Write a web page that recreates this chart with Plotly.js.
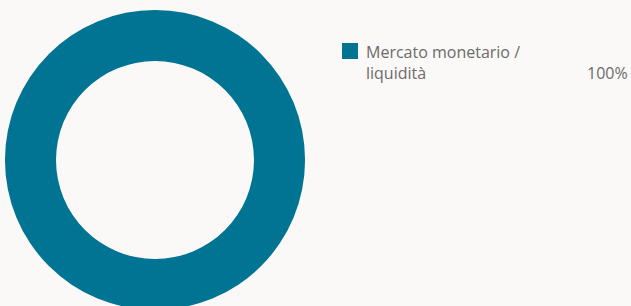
<!DOCTYPE html>
<html><head><meta charset="utf-8">
<script src="https://cdn.plot.ly/plotly-3.0.1.min.js"></script>
<style>html,body{margin:0;padding:0;overflow:hidden;background:#faf9f7;}</style>
</head><body><div id="chart"></div>
<script>
const categories = ["Mercato monetario /<br>liquidità"];
const values = [100];
const valueLabels = ["100%"];
const colors = ["#017393"];

const W = 631, H = 320;
const px = x => x / W;
const py = y => 1 - y / H;

const annotations = [];
const shapes = [];
categories.forEach((c, i) => {
  const top = 43 + i * 50;
  shapes.push({type: 'rect', xref: 'paper', yref: 'paper', x0: px(342), x1: px(358), y0: py(top + 16), y1: py(top), fillcolor: colors[i], line: {width: 0}});
  annotations.push({xref: 'paper', yref: 'paper', x: px(364), y: py(top - 4), xanchor: 'left', yanchor: 'top', align: 'left', showarrow: false, text: c, font: {family: 'Open Sans', size: 16, color: '#6b6b6b'}});
  annotations.push({xref: 'paper', yref: 'paper', x: px(630), y: py(top + 17), xanchor: 'right', yanchor: 'top', align: 'right', showarrow: false, text: valueLabels[i], font: {family: 'Open Sans', size: 16, color: '#6b6b6b'}});
});

Plotly.newPlot('chart', [{
  type: 'pie', labels: categories, values: values, hole: 0.66, sort: false,
  marker: {colors: colors, line: {width: 0}}, textinfo: 'none', hoverinfo: 'none',
  showlegend: false, domain: {x: [px(5), px(305)], y: [0, 1]}
}], {
  width: W, height: H, margin: {l: 0, r: 0, t: 0, b: 0},
  paper_bgcolor: '#faf9f7', plot_bgcolor: '#faf9f7',
  showlegend: false, annotations: annotations, shapes: shapes
}, {staticPlot: true, displayModeBar: false});
</script></body></html>
